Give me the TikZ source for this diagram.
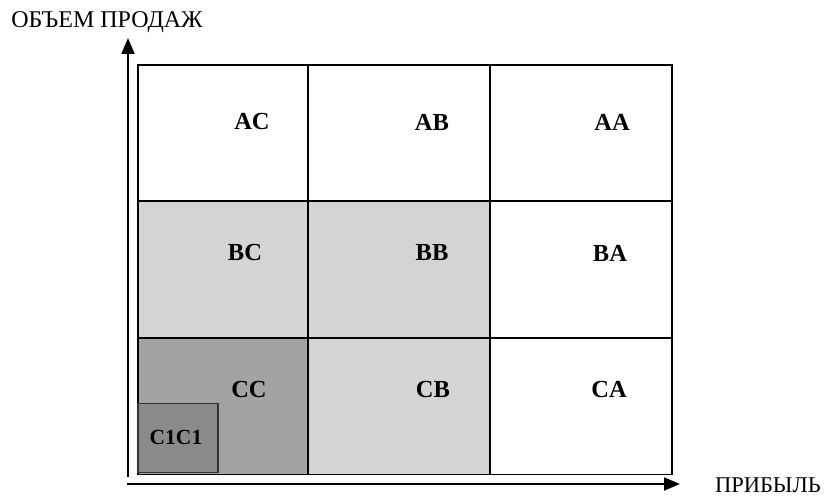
\documentclass[tikz,border=0pt]{standalone}
\usepackage{fontspec}
\setmainfont{Liberation Serif}
\usetikzlibrary{arrows.meta}
\definecolor{lightg}{RGB}{212,212,212}
\definecolor{midg}{RGB}{163,163,163}
\definecolor{darkg}{RGB}{138,138,138}
\begin{document}
\begin{tikzpicture}[x=1pt,y=-1pt,
  cell/.style={draw=black,line width=1.8pt,anchor=north west,inner sep=0pt,minimum height=136.5pt},
  lab/.style={font=\fontsize{24.5}{24.5}\selectfont\bfseries,inner sep=0pt},
  axlab/.style={font=\fontsize{24}{24}\selectfont,inner sep=0pt},
  axis/.style={line width=2pt,-{Triangle[length=16pt,width=13pt]}}]
\useasboundingbox (0,0) rectangle (828,497);
% cells
\node[cell,minimum width=170pt] (ac) at (137,64) {};
\node[cell,minimum width=182pt] (ab) at (307,64) {};
\node[cell,minimum width=182pt] (aa) at (489,64) {};
\node[cell,fill=lightg,minimum width=170pt] (bc) at (137,200.5) {};
\node[cell,fill=lightg,minimum width=182pt] (bb) at (307,200.5) {};
\node[cell,minimum width=182pt] (ba) at (489,200.5) {};
\node[cell,fill=midg,minimum width=170pt] (cc) at (137,337) {};
\node[cell,fill=lightg,minimum width=182pt] (cb) at (307,337) {};
\node[cell,minimum width=182pt] (ca) at (489,337) {};
\node[draw=black!80,line width=1.5pt,fill=darkg,anchor=south west,inner sep=0pt,minimum width=80pt,minimum height=69pt] (c1) at (137,473) {};
% labels
\node[lab] (tac) at (252,122) {AC};
\node[lab] (tab) at (432,122) {AB};
\node[lab] (taa) at (612,122) {AA};
\node[lab] (tbc) at (245,253) {BC};
\node[lab] (tbb) at (432,253) {BB};
\node[lab] (tba) at (610,253) {BA};
\node[lab] (tcc) at (249,390) {CC};
\node[lab] (tcb) at (433,390) {CB};
\node[lab] (tca) at (609,390) {CA};
\node[lab,font=\fontsize{21.5}{21.5}\selectfont\bfseries] (tc1) at (176,437) {C1C1};
% axes
\coordinate (vo) at (128,477);
\coordinate (vt) at (128,38);
\coordinate (ho) at (127,484);
\coordinate (ht) at (680,484);
\draw[axis] (vo) -- (vt);
\draw[axis] (ho) -- (ht);
\node[axlab] (ylab) at (107,22) {ОБЪЕМ ПРОДАЖ};
\node[axlab,font=\fontsize{22.5}{22.5}\selectfont,anchor=east] (xlab) at (821,485) {ПРИБЫЛЬ};
\end{tikzpicture}
\end{document}
